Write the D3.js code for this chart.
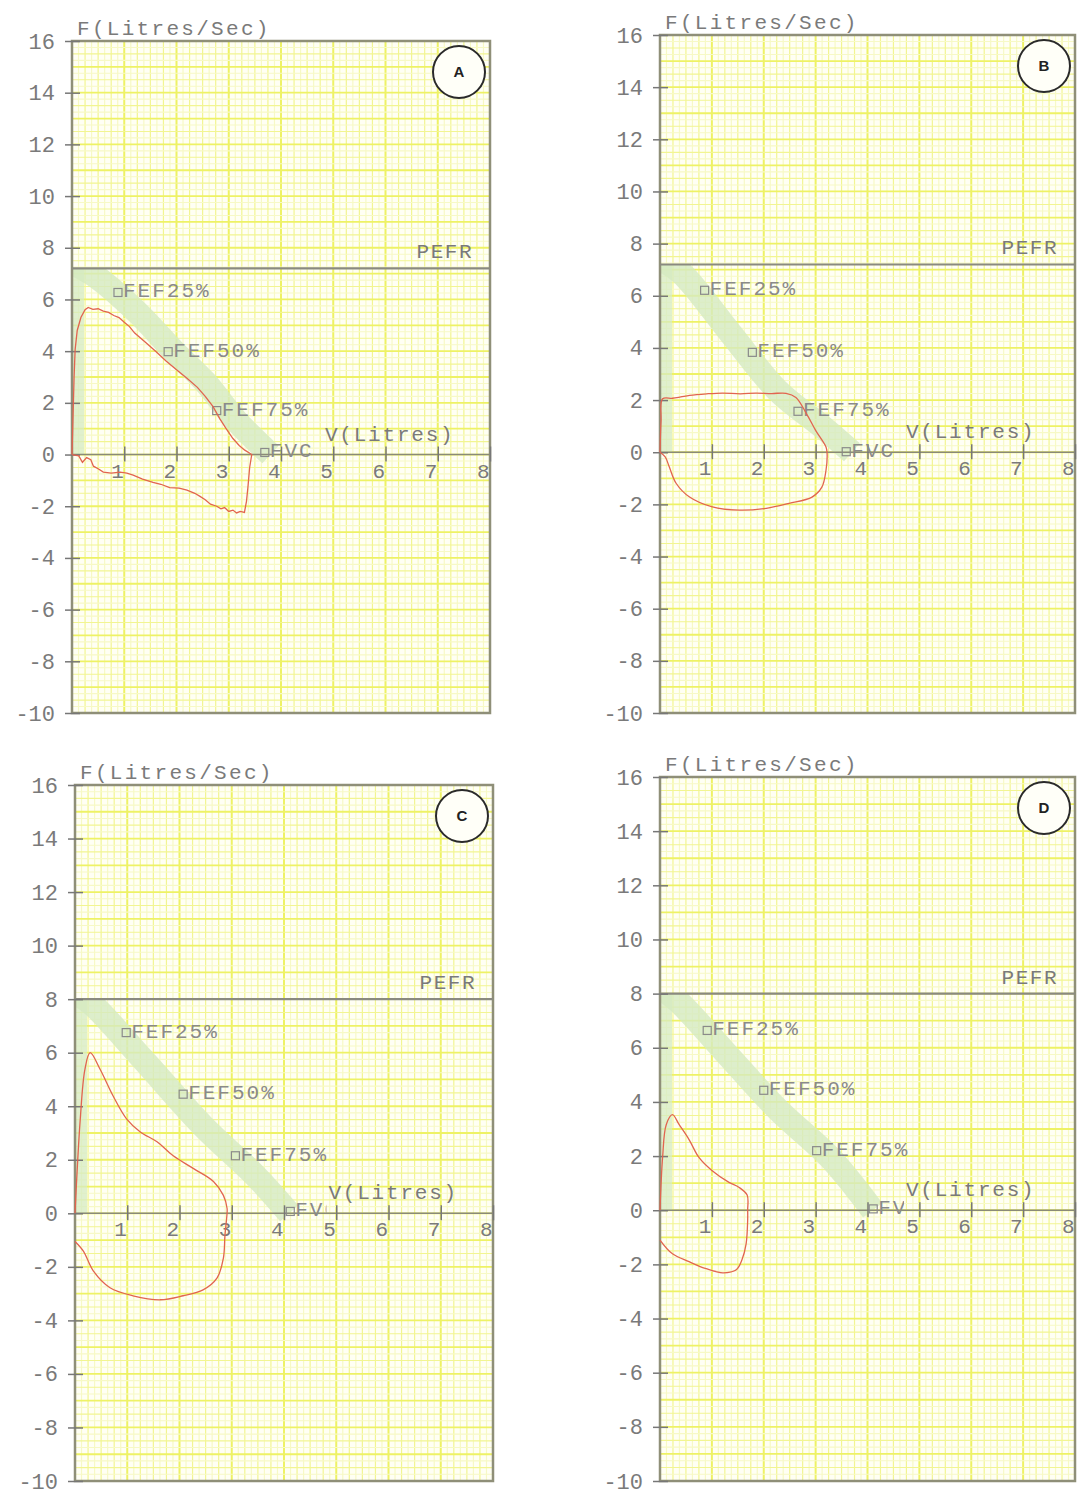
<!DOCTYPE html>
<html><head><meta charset="utf-8">
<script src="https://cdn.jsdelivr.net/npm/d3@7"></script>
<style>body{margin:0;background:#fff}</style>
</head><body>
<svg id="chart" width="1078" height="1492"></svg>
<script>
// ---------- data ----------
const panelIds = ["A", "B", "C", "D"];
const yTicks = [16, 14, 12, 10, 8, 6, 4, 2, 0, -2, -4, -6, -8, -10];
const xTicks = [1, 2, 3, 4, 5, 6, 7, 8];
const yAxisTitle = "F(Litres/Sec)";
const xAxisTitle = "V(Litres)";
const pefrLabel = "PEFR";
const markerNames = ["FEF25%", "FEF50%", "FEF75%", "FVC"];
const pefr = [7.2, 7.2, 8.0, 8.0];
const fef25 = [[0.88, 6.27], [0.86, 6.21], [0.98, 6.75], [0.91, 6.64]];
const fef50 = [[1.84, 3.98], [1.78, 3.83], [2.07, 4.45], [2.0, 4.43]];
const fef75 = [[2.77, 1.70], [2.66, 1.57], [3.07, 2.15], [3.02, 2.2]];
const fvc   = [[3.69, 0.08], [3.59, 0.02], [4.12, 0.07], [4.11, 0.05]];

// predicted (green band) paths
const predA = [[0.02, 7.4], [0.45, 6.9], [1.25, 5.5], [1.95, 4.0], [2.55, 2.8], [3.15, 1.3], [3.8, 0.0]];
const predB = [[0.02, 7.4], [0.42, 6.86], [1.36, 4.56], [2.26, 2.38], [3.14, 0.96], [3.7, 0.0]];
const predC = [[0.02, 8.2], [0.3, 7.86], [1.3, 5.75], [2.45, 3.26], [3.45, 1.41], [4.1, 0.0]];
const predD = [[0.02, 8.2], [0.36, 7.7], [1.24, 5.87], [2.27, 3.72], [3.28, 1.94], [4.1, 0.0]];

// measured flow-volume loops
const loopA = [[0, 0], [0.02, 1.5], [0.04, 3.0], [0.06, 4.06], [0.1, 4.8], [0.17, 5.3], [0.25, 5.6], [0.31, 5.69],
  [0.4, 5.62], [0.5, 5.64], [0.6, 5.55], [0.7, 5.5], [0.8, 5.38], [0.9, 5.3], [1.0, 5.12], [1.1, 4.95], [1.2, 4.7],
  [1.4, 4.35], [1.6, 4.0], [1.8, 3.62], [2.0, 3.28], [2.2, 2.95], [2.4, 2.6], [2.55, 2.25], [2.7, 1.85], [2.83, 1.38],
  [2.95, 1.0], [3.08, 0.62], [3.2, 0.35], [3.3, 0.18], [3.44, 0.0],
  [3.4, -0.5], [3.37, -1.2], [3.34, -1.8], [3.3, -2.24], [3.22, -2.2], [3.15, -2.26], [3.08, -2.15], [3.0, -2.2],
  [2.92, -2.05], [2.85, -2.1], [2.77, -2.0], [2.65, -1.92], [2.55, -1.75], [2.45, -1.62], [2.35, -1.5], [2.2, -1.38],
  [2.05, -1.3], [1.87, -1.28], [1.7, -1.15], [1.55, -1.08], [1.35, -0.95], [1.17, -0.8], [1.05, -0.72], [0.92, -0.68],
  [0.75, -0.72], [0.6, -0.68], [0.5, -0.55], [0.41, -0.45], [0.36, -0.2], [0.28, -0.12], [0.2, -0.3], [0.13, -0.05], [0, 0]];
const loopB = [[0, 0], [0.02, 1.2], [0.05, 2.05], [0.24, 2.07], [0.4, 2.12], [0.57, 2.18], [0.9, 2.24], [1.2, 2.27],
  [1.55, 2.24], [1.85, 2.27], [2.15, 2.25], [2.43, 2.26], [2.62, 2.1], [2.82, 1.49], [3.0, 0.84], [3.2, 0.2], [3.22, 0.0],
  [3.2, -0.69], [3.12, -1.34], [2.93, -1.72], [2.49, -1.96], [2.05, -2.15], [1.53, -2.22], [1.01, -2.1], [0.57, -1.72],
  [0.31, -1.19], [0.18, -0.57], [0.1, -0.18], [0, 0]];
const loopC = [[0, -1.05], [0.16, -1.41], [0.35, -2.15], [0.67, -2.78], [1.11, -3.08], [1.63, -3.23], [2.07, -3.08],
  [2.45, -2.86], [2.72, -2.41], [2.84, -1.67], [2.87, -0.82], [2.91, 0.0], [2.91, 0.19], [2.84, 0.67], [2.65, 1.19],
  [2.27, 1.67], [1.88, 2.15], [1.57, 2.67], [1.25, 3.04], [0.99, 3.52], [0.73, 4.38], [0.48, 5.38], [0.29, 6.0],
  [0.19, 5.38], [0.1, 3.5], [0, 0]];
const loopD = [[0, -1.1], [0.24, -1.61], [0.56, -1.9], [0.89, -2.16], [1.21, -2.31], [1.47, -2.2], [1.58, -1.83],
  [1.66, -1.24], [1.69, -0.37], [1.69, 0.0], [1.68, 0.56], [1.52, 0.85], [1.33, 1.03], [1.0, 1.47], [0.75, 1.95],
  [0.56, 2.61], [0.37, 3.16], [0.24, 3.53], [0.12, 3.16], [0.05, 1.95], [0, 0]];

const preds = [predA, predB, predC, predD];
const loops = [loopA, loopB, loopC, loopD];
const xLabelPos = [[4.84, 0], [4.74, 0], [4.85, 0], [4.74, 0]];

// ---------- layout ----------
const frames = [
  {l: 72, r: 490, t: 41, b: 713},
  {l: 660, r: 1075, t: 35, b: 713},
  {l: 75, r: 493, t: 785, b: 1481},
  {l: 660, r: 1075, t: 777, b: 1481}
];

const svg = d3.select("#chart");
const FONT = "'Liberation Mono', 'Courier New', monospace";
const textCol = "#7a7a7a";

panelIds.forEach((id, i) => {
  const f = frames[i];
  const x = d3.scaleLinear().domain([0, 8]).range([f.l, f.r]);
  const y = d3.scaleLinear().domain([-10, 16]).range([f.b, f.t]);
  const g = svg.append("g");
  const clipId = "clip" + id;
  svg.append("clipPath").attr("id", clipId).append("rect")
    .attr("x", f.l).attr("y", f.t).attr("width", f.r - f.l).attr("height", f.b - f.t);
  const bandClip = "bclip" + id;
  svg.append("clipPath").attr("id", bandClip).append("rect")
    .attr("x", f.l).attr("y", y(pefr[i])).attr("width", f.r - f.l).attr("height", f.b - y(pefr[i]));

  // background
  g.append("rect").attr("x", f.l).attr("y", f.t).attr("width", f.r - f.l).attr("height", f.b - f.t)
    .attr("fill", "#fffff4");

  // grid
  const grid = g.append("g").attr("clip-path", `url(#${clipId})`);
  d3.range(0, 8.001, 0.125).forEach(v => {
    const major = Math.abs(v - Math.round(v)) < 1e-6;
    const mid = Math.abs(v * 4 - Math.round(v * 4)) < 1e-6;
    grid.append("line").attr("x1", x(v)).attr("x2", x(v)).attr("y1", f.t).attr("y2", f.b)
      .attr("stroke", major ? "#eef265" : mid ? "#f2f592" : "#f7f9c6")
      .attr("stroke-width", major ? 2 : 1.2);
  });
  d3.range(-10, 16.001, 0.25).forEach(v => {
    const major = Math.abs(v - Math.round(v)) < 1e-6;
    const mid = Math.abs(v * 2 - Math.round(v * 2)) < 1e-6;
    grid.append("line").attr("y1", y(v)).attr("y2", y(v)).attr("x1", f.l).attr("x2", f.r)
      .attr("stroke", major ? "#eef265" : mid ? "#f2f592" : "#f7f9c6")
      .attr("stroke-width", major ? 1.8 : 1.1);
  });

  // predicted band
  const band = g.append("g").attr("clip-path", `url(#${bandClip})`);
  band.append("rect").attr("x", x(0)).attr("y", y(pefr[i])).attr("width", 12)
    .attr("height", y(0) - y(pefr[i])).attr("fill", "#d6ebc2").attr("opacity", 0.75);
  band.append("path").datum(preds[i])
    .attr("d", d3.line().x(d => x(d[0])).y(d => y(d[1])).curve(d3.curveCatmullRom))
    .attr("fill", "none").attr("stroke", "#d4eac0").attr("stroke-width", 24)
    .attr("stroke-linecap", "butt").attr("stroke-linejoin", "round").attr("opacity", 0.8);

  // frame
  g.append("rect").attr("x", f.l).attr("y", f.t).attr("width", f.r - f.l).attr("height", f.b - f.t)
    .attr("fill", "none").attr("stroke", "#8f8f78").attr("stroke-width", 2.5);

  // PEFR line
  g.append("line").attr("x1", f.l).attr("x2", f.r).attr("y1", y(pefr[i])).attr("y2", y(pefr[i]))
    .attr("stroke", "#8a8a80").attr("stroke-width", 2.2);
  g.append("text").attr("x", f.r - 17).attr("y", y(pefr[i]) - 10).attr("text-anchor", "end")
    .attr("font-family", FONT).attr("font-size", 21).attr("letter-spacing", 1.5).attr("fill", textCol)
    .text(pefrLabel);

  // zero axis line
  g.append("line").attr("x1", f.l).attr("x2", f.r).attr("y1", y(0)).attr("y2", y(0))
    .attr("stroke", "#8a8a78").attr("stroke-width", 1.5);

  // y axis
  const ya = g.append("g").attr("transform", `translate(${f.l + 8},0)`)
    .call(d3.axisLeft(y).tickValues(yTicks).tickSize(15).tickPadding(10).tickFormat(d3.format("d")));
  ya.select(".domain").remove();
  ya.selectAll("line").attr("stroke", "#777").attr("stroke-width", 1.5);
  ya.selectAll("text").attr("font-family", FONT).attr("font-size", 22)
    .attr("fill", textCol).text(d => d < 0 ? "-" + Math.abs(d) : d);

  // x axis
  const xa = g.append("g").attr("transform", `translate(0,${y(0) - 8})`)
    .call(d3.axisBottom(x).tickValues(xTicks).tickSize(15).tickFormat(d3.format("d")));
  xa.select(".domain").remove();
  xa.selectAll("line").attr("stroke", "#777").attr("stroke-width", 1.5);
  xa.selectAll("text").attr("font-family", FONT).attr("font-size", 21).attr("fill", textCol)
    .attr("text-anchor", "end").attr("dx", -1).attr("y", 31).attr("dy", 0);

  // axis titles
  g.append("text").attr("x", f.l + 5).attr("y", f.t - 6)
    .attr("font-family", FONT).attr("font-size", 21).attr("letter-spacing", 2.3).attr("fill", textCol)
    .text(yAxisTitle);

  const vx = x(xLabelPos[i][0]);
  const fvcClip = "fvcclip" + id;
  svg.append("clipPath").attr("id", fvcClip).append("rect")
    .attr("x", 0).attr("y", 0).attr("width", vx - 2).attr("height", 1492);

  // markers
  const marks = [fef25[i], fef50[i], fef75[i], fvc[i]];
  marks.forEach((m, k) => {
    const cx = x(m[0]), cy = y(m[1]);
    g.append("rect").attr("x", cx - 4).attr("y", cy - 4).attr("width", 8).attr("height", 8)
      .attr("fill", "none").attr("stroke", "#8a8a8a").attr("stroke-width", 1.2);
    g.append("text").attr("x", cx + 5).attr("y", cy + 5)
      .attr("font-family", FONT).attr("font-size", 21).attr("letter-spacing", 2).attr("fill", "#8a8a8a")
      .attr("clip-path", k === 3 ? `url(#${fvcClip})` : null)
      .text(markerNames[k]);
  });

  g.append("text").attr("x", vx).attr("y", y(0) - 14)
    .attr("font-family", FONT).attr("font-size", 21).attr("letter-spacing", 1.8).attr("fill", textCol)
    .text(xAxisTitle);

  // measured loop
  g.append("path").datum(loops[i])
    .attr("d", d3.line().x(d => x(d[0])).y(d => y(d[1])).curve(i === 0 ? d3.curveLinear : d3.curveCatmullRom))
    .attr("fill", "none").attr("stroke", "#e2644f").attr("stroke-width", 1.3);

  // panel label circle
  const cx = f.r - 31, cy = f.t + 31;
  g.append("circle").attr("cx", cx).attr("cy", cy).attr("r", 26)
    .attr("fill", "#fffff8").attr("stroke", "#2a2a2a").attr("stroke-width", 2);
  g.append("text").attr("x", cx).attr("y", cy + 5).attr("text-anchor", "middle")
    .attr("font-family", "'Liberation Sans', Arial, sans-serif").attr("font-weight", "bold")
    .attr("font-size", 15).attr("fill", "#222").text(id);
});
</script>
</body></html>
